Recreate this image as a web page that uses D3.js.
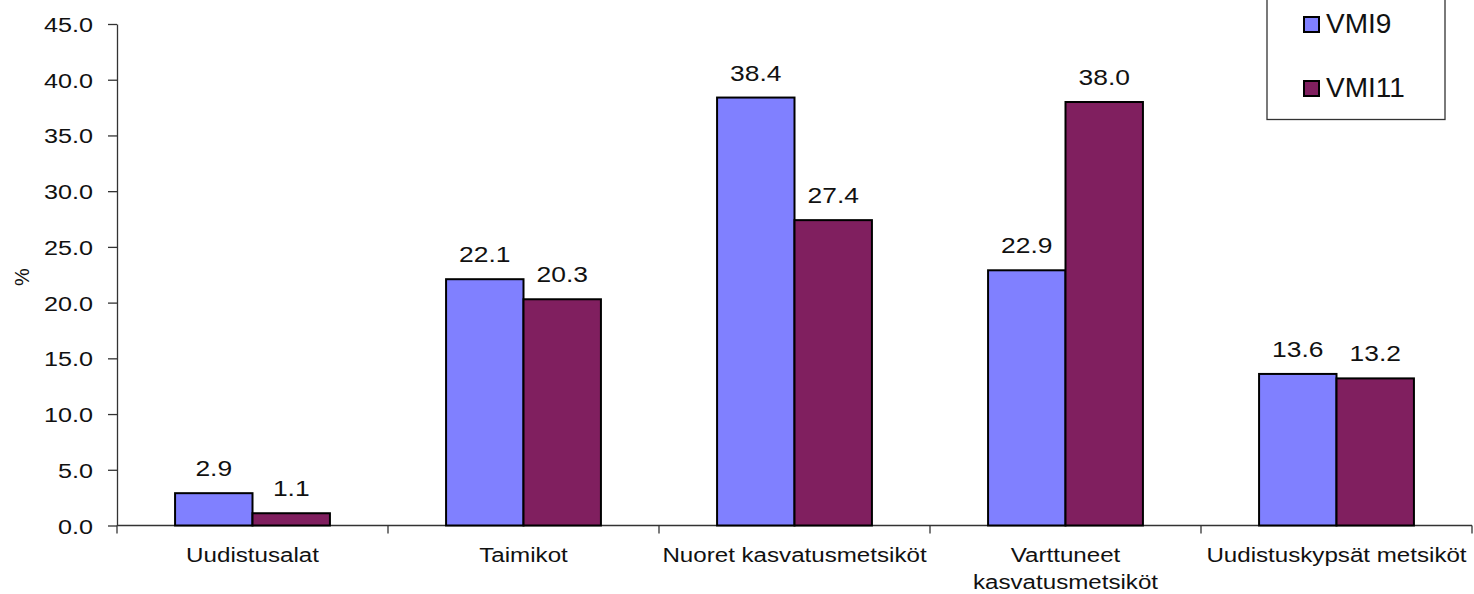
<!DOCTYPE html>
<html>
<head>
<meta charset="utf-8">
<script src="https://cdn.jsdelivr.net/npm/d3@7"></script>
<style>
  body { margin: 0; background: #fff; }
  svg { display: block; font-family: Arial, "Liberation Sans", sans-serif; }
</style>
</head>
<body>
<div id="chart"></div>
<script>
// ---------- data ----------
var categories = ["Uudistusalat", "Taimikot", "Nuoret kasvatusmetsiköt", "Varttuneet kasvatusmetsiköt", "Uudistuskypsät metsiköt"];
var seriesNames = ["VMI9", "VMI11"];
var vmi9 = [2.9, 22.1, 38.4, 22.9, 13.6];
var vmi11 = [1.1, 20.3, 27.4, 38.0, 13.2];
var yTicks = [0, 5, 10, 15, 20, 25, 30, 35, 40, 45];
var colors = ["#8080ff", "#801f5f"];

var width = 1474, height = 594;
// plot area edges (note: "top" is reserved by window, so use plot*)
var plotLeft = 117, plotRight = 1472, plotTop = 24, plotBottom = 525.5;
var stretch = 1.2;   // text in the picture is a bit wide

var svg = d3.select("#chart").append("svg")
  .attr("width", width)
  .attr("height", height);

// ----------- scales -----------
var x0 = d3.scaleBand().domain(categories).range([plotLeft, plotRight]);
var bw = x0.bandwidth();
var x1 = d3.scaleBand().domain(seriesNames)
  .range([bw * 0.75 / 3.5, bw - bw * 0.75 / 3.5]);
var y = d3.scaleLinear().domain([0, 45]).range([plotBottom, plotTop]);

// ----------- Y AXIS -----------
var yAxis = svg.append("g")
  .attr("transform", "translate(" + plotLeft + ",0)")
  .call(d3.axisLeft(y).tickValues(yTicks).tickFormat(d3.format(".1f"))
        .tickSize(9).tickSizeOuter(0).tickPadding(15));
yAxis.select(".domain").attr("stroke", "#333").attr("stroke-width", 1.3);
yAxis.selectAll(".tick line").attr("stroke", "#333").attr("stroke-width", 1.3);
yAxis.selectAll(".tick text")
  .attr("fill", "#111")
  .style("font-size", "21px")
  .attr("dy", null)
  .attr("x", 0)
  .attr("y", 7.5)
  .attr("transform", "translate(-24,0) scale(" + stretch + ",1)");

// y title
svg.append("text")
  .attr("transform", "translate(29,277) rotate(-90)")
  .attr("text-anchor", "middle")
  .style("font-size", "20px")
  .attr("fill", "#111")
  .text("%");

// ----------- X AXIS -----------
svg.append("line")
  .attr("x1", plotLeft).attr("x2", plotRight)
  .attr("y1", plotBottom).attr("y2", plotBottom)
  .attr("stroke", "#333").attr("stroke-width", 1.3);

var bounds = categories.map(function(c) { return x0(c); }).concat([plotRight]);
svg.append("g").selectAll("line")
  .data(bounds)
  .enter().append("line")
  .attr("x1", function(d) { return d; })
  .attr("x2", function(d) { return d; })
  .attr("y1", plotBottom)
  .attr("y2", plotBottom + 8)
  .attr("stroke", "#333").attr("stroke-width", 1.3);

// category labels, wrapped when wider than the band
var catLabels = svg.append("g").selectAll("text")
  .data(categories)
  .enter().append("text")
  .attr("text-anchor", "middle")
  .attr("transform", function(d) {
    return "translate(" + (x0(d) + bw / 2) + ",562) scale(1.15,1)";
  })
  .style("font-size", "21px")
  .attr("fill", "#111");

catLabels.each(function(d) {
  var t = d3.select(this);
  var words = d.split(" ");
  var lines = [];
  var line = [];
  var probe = t.append("tspan");
  words.forEach(function(w) {
    var tryLine = line.concat([w]);
    probe.text(tryLine.join(" "));
    if (line.length && probe.node().getComputedTextLength() * 1.15 > bw - 4) {
      lines.push(line.join(" "));
      line = [w];
    } else {
      line = tryLine;
    }
  });
  lines.push(line.join(" "));
  probe.remove();
  lines.forEach(function(l, i) {
    t.append("tspan")
      .attr("x", 0)
      .attr("dy", i == 0 ? 0 : 27)
      .text(l);
  });
});

// ---------- bars ----------
var rows = categories.map(function(c, i) {
  return [{ cat: c, name: "VMI9", value: vmi9[i] }, { cat: c, name: "VMI11", value: vmi11[i] }];
});

var groups = svg.append("g").selectAll("g")
  .data(rows)
  .enter().append("g")
  .attr("transform", function(d) { return "translate(" + x0(d[0].cat) + ",0)"; });

groups.selectAll("rect")
  .data(function(d) { return d; })
  .enter().append("rect")
  .attr("x", function(d) { return x1(d.name); })
  .attr("y", function(d) { return y(d.value); })
  .attr("width", x1.bandwidth())
  .attr("height", function(d) { return plotBottom - y(d.value); })
  .attr("fill", function(d, i) { return colors[i]; })
  .attr("stroke", "#000")
  .attr("stroke-width", 2);

// value labels
groups.selectAll("text")
  .data(function(d) { return d; })
  .enter().append("text")
  .attr("text-anchor", "middle")
  .attr("transform", function(d) {
    return "translate(" + (x1(d.name) + x1.bandwidth() / 2) + "," + (y(d.value) - 17) + ") scale(" + stretch + ",1)";
  })
  .style("font-size", "22px")
  .attr("fill", "#111")
  .text(function(d) { return d.value.toFixed(1); });

// ---------- legend ----------
var legend = svg.append("g");
legend.append("rect")
  .attr("x", 1267).attr("y", -10)
  .attr("width", 178).attr("height", 129.5)
  .attr("fill", "#fff")
  .attr("stroke", "#333").attr("stroke-width", 1.3);

var items = legend.selectAll("g.item")
  .data(seriesNames)
  .enter().append("g")
  .attr("class", "item")
  .attr("transform", function(d, i) { return "translate(1304," + (17 + i * 64) + ")"; });
items.append("rect")
  .attr("width", 15).attr("height", 15)
  .attr("fill", function(d, i) { return colors[i]; })
  .attr("stroke", "#000").attr("stroke-width", 2);
items.append("text")
  .attr("x", 22).attr("y", 16)
  .style("font-size", "28px")
  .attr("fill", "#111")
  .text(function(d) { return d; });
</script>
</body>
</html>
